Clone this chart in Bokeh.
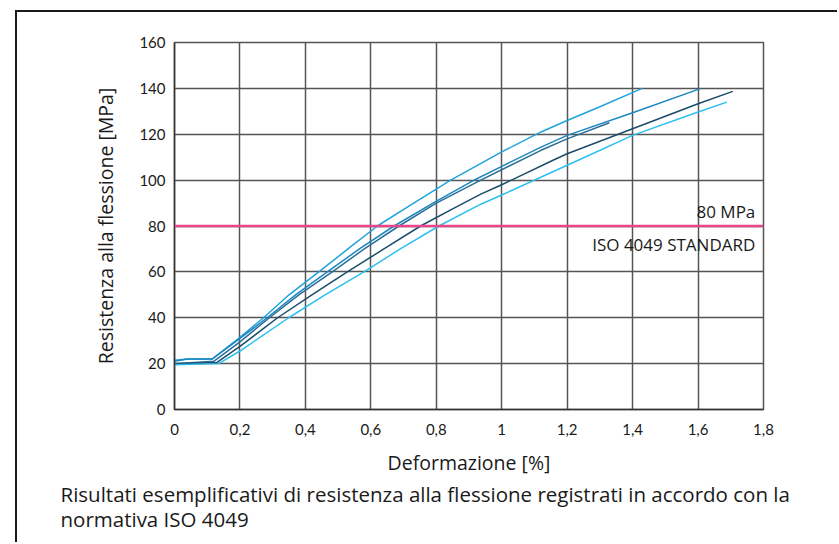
from bokeh.plotting import figure
from bokeh.models import Span, Label, FixedTicker, Range1d, Title
from bokeh.embed import file_html
from bokeh.resources import INLINE

# ---- data ----
strain_a = [0, 0.04, 0.115, 0.2, 0.272, 0.35, 0.441, 0.53, 0.62, 0.72, 0.844, 1.0, 1.12, 1.2, 1.3, 1.429]
stress_a = [21.5, 22, 22, 31.5, 40, 50, 60, 70, 80, 89, 100, 112.3, 121, 126, 132, 140]

strain_b = [0, 0.04, 0.115, 0.2, 0.283, 0.37, 0.467, 0.565, 0.671, 0.79, 0.921, 1.0, 1.12, 1.2, 1.4, 1.607]
stress_b = [21, 22, 22, 31, 40, 50, 60, 70, 80, 90, 100.4, 106, 114.4, 119.5, 129.4, 139.9]

strain_c = [0, 0.12, 0.2, 0.29, 0.38, 0.482, 0.58, 0.686, 0.8, 0.936, 1.12, 1.2, 1.329]
stress_c = [20, 21, 29.5, 40, 50, 60, 70, 80, 90, 100, 113, 118, 125]

strain_d = [0, 0.13, 0.2, 0.315, 0.42, 0.528, 0.64, 0.752, 0.85, 0.936, 1.0, 1.16, 1.2, 1.4, 1.6, 1.706]
stress_d = [20, 20.5, 27.5, 40, 50, 60, 70, 80, 87.5, 93.9, 98, 108.9, 111.5, 122.4, 133.3, 138.7]

strain_e = [0, 0.135, 0.2, 0.349, 0.46, 0.579, 0.69, 0.808, 0.936, 1.0, 1.237, 1.4, 1.6, 1.688]
stress_e = [19.5, 20, 25.5, 40, 50, 60, 70, 80, 89.5, 93.5, 108.9, 119.5, 129.7, 134]

series_colors = ["#1fa3dd", "#1c86bf", "#2a6e98", "#1b4c6b", "#2cc0f0"]

x_ticks = [0, 0.2, 0.4, 0.6, 0.8, 1.0, 1.2, 1.4, 1.6, 1.8]
x_tick_labels = ["0", "0,2", "0,4", "0,6", "0,8", "1", "1,2", "1,4", "1,6", "1,8"]
y_ticks = [0, 20, 40, 60, 80, 100, 120, 140, 160]

threshold = 80
threshold_label = "80 MPa"
standard_label = "ISO 4049 STANDARD"
x_title = "Deformazione [%]"
y_title = "Resistenza alla flessione [MPa]"
caption_lines = [
    "Risultati esemplificativi di resistenza alla flessione registrati in accordo con la",
    "normativa ISO 4049",
]

TICK_FONT = "Lato"
TEXT_FONT = "Open Sans"

p = figure(width=822, height=532, output_backend="svg", toolbar_location=None,
           x_range=Range1d(0, 1.8), y_range=Range1d(0, 160),
           min_border_left=157, min_border_right=76, min_border_top=30, min_border_bottom=135)
p.styles = {"margin-left": "15px", "margin-top": "10px",
            "border-left": "2px solid #1a1a1a", "border-top": "2px solid #1a1a1a"}
p.background_fill_color = "white"
p.border_fill_color = "white"
p.outline_line_color = "#555555"
p.outline_line_width = 1.5

for ax in (p.xaxis[0], p.yaxis[0]):
    ax.axis_line_color = "#333333"
    ax.axis_line_width = 1.5
    ax.major_tick_line_color = None
    ax.minor_tick_line_color = None
    ax.major_label_text_font = TICK_FONT
    ax.major_label_text_font_size = "15px"
    ax.major_label_text_color = "#1a1a1a"
    ax.axis_label_text_font = TEXT_FONT
    ax.axis_label_text_font_size = "19.5px"
    ax.axis_label_text_font_style = "normal"
    ax.axis_label_text_color = "#1a1a1a"

p.xaxis.ticker = FixedTicker(ticks=x_ticks)
p.xaxis.major_label_overrides = {t: l for t, l in zip(x_ticks, x_tick_labels)}
p.yaxis.ticker = FixedTicker(ticks=y_ticks)
p.xaxis.axis_label = x_title
p.yaxis.axis_label = y_title
p.xaxis.major_label_standoff = 8
p.xaxis.axis_label_standoff = 11
p.yaxis.major_label_standoff = 3
p.yaxis.axis_label_standoff = 17

p.xgrid.grid_line_color = "#555555"
p.xgrid.grid_line_width = 1.5
p.ygrid.grid_line_color = "#555555"
p.ygrid.grid_line_width = 1.5

series = [(strain_a, stress_a), (strain_b, stress_b), (strain_c, stress_c),
          (strain_d, stress_d), (strain_e, stress_e)]
for (xs, ys), c in zip(series, series_colors):
    p.line(xs, ys, line_color=c, line_width=1.5)

p.add_layout(Span(location=threshold, dimension="width", line_color="#e8458a", line_width=2.5))

p.add_layout(Label(x=1.775, y=threshold, text=threshold_label, text_align="right",
                   text_baseline="bottom", y_offset=3, text_font=TEXT_FONT,
                   text_font_size="17px", text_color="#1a1a1a"))
p.add_layout(Label(x=1.775, y=threshold, text=standard_label, text_align="right",
                   text_baseline="top", y_offset=-7, text_font=TEXT_FONT,
                   text_font_size="17px", text_color="#1a1a1a"))

p.add_layout(Title(text="\n".join(caption_lines), align="left", offset=-114,
                   text_font=TEXT_FONT, text_font_size="20.5px", text_font_style="normal",
                   text_color="#1a1a1a", text_line_height=0.9, standoff=0), "below")

open("out.html", "w").write(file_html(p, INLINE))
